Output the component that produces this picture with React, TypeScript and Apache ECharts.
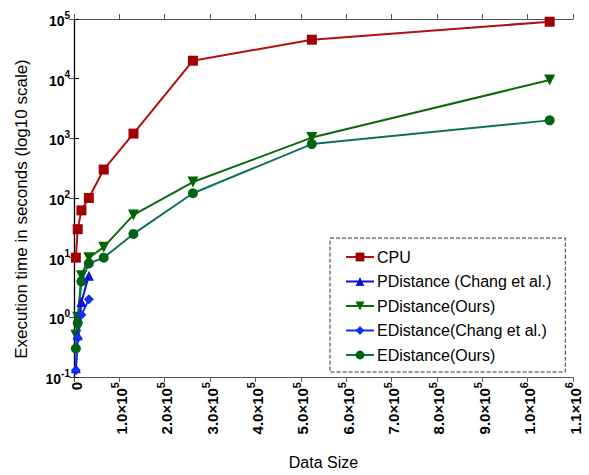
import React, { useEffect, useRef } from "react";
import * as echarts from "echarts";

const dataSizes = [4096, 8192, 16384, 32768, 65536, 131072, 262144, 524288, 1048576];
const cpuTimes = [10, 30, 62, 100, 300, 1200, 20000, 45000, 90000];
const pDistanceChang = [0.14, 0.5, 1.8, 5];
const pDistanceOurs = [0.5, 1.0, 5, 10, 15, 52, 185, 1030, 9500];
const eDistanceChang = [0.13, 0.45, 1.1, 2];
const eDistanceOurs = [0.3, 0.8, 4, 8, 10, 25, 120, 800, 2000];

const seriesNames = [
  "CPU",
  "PDistance (Chang et al.)",
  "PDistance(Ours)",
  "EDistance(Chang et al.)",
  "EDistance(Ours)",
];

const FONT = "'Liberation Sans', Arial, sans-serif";

function pairs(ys: number[]) {
  return ys.map((y, i) => [dataSizes[i], y]);
}

export default function App() {
  const ref = useRef<HTMLDivElement>(null);
  useEffect(() => {
    if (!ref.current) return;
    const chart = echarts.init(ref.current, undefined, { renderer: "svg" });
    const xLabel = (v: number) => {
      if (v === 0) return "{xb|0}";
      const e = Math.floor(Math.log10(v) + 1e-9);
      const m = v / Math.pow(10, e);
      return "{xb|" + m.toFixed(1) + "×10}{xs|" + e + "}";
    };
    const yLabel = (v: number) => "{b|10}{s|" + Math.round(Math.log10(v)) + "}";
    const rich = {
      b: { fontSize: 14, fontWeight: "bold", color: "#000", fontFamily: FONT, lineHeight: 18, verticalAlign: "bottom" },
      s: { fontSize: 10, fontWeight: "bold", color: "#000", fontFamily: FONT, lineHeight: 10, verticalAlign: "top" },
      xb: { fontSize: 15, fontWeight: "bold", color: "#000", fontFamily: FONT, lineHeight: 19, verticalAlign: "bottom" },
      xs: { fontSize: 11, fontWeight: "bold", color: "#000", fontFamily: FONT, lineHeight: 11, verticalAlign: "top" },
    };
    const axisLineGray = { show: true, lineStyle: { color: "#555", width: 1.2 } };
    chart.setOption({
      animation: false,
      backgroundColor: "#fff",
      textStyle: { fontFamily: FONT },
      grid: { left: 74, right: 16, top: 19, bottom: 93, containLabel: false },
      legend: {
        orient: "vertical",
        left: 330,
        top: 238,
        data: seriesNames,
        itemWidth: 28,
        itemHeight: 11,
        itemGap: 8.5,
        padding: [11, 14, 9, 15],
        borderColor: "#333",
        borderWidth: 1,
        borderType: "dashed",
        textStyle: { fontSize: 16, color: "#000", fontFamily: FONT, padding: [0, 0, 0, -2] },
      },
      xAxis: [
        {
          type: "value",
          min: 0,
          max: 1100000,
          interval: 100000,
          name: "Data Size",
          nameLocation: "middle",
          nameGap: 77,
          nameTextStyle: { fontSize: 16, color: "#000", fontFamily: FONT },
          axisLine: axisLineGray,
          axisTick: { show: true, length: 5, inside: false, lineStyle: { color: "#555" } },
          splitLine: { show: false },
          axisLabel: {
            rotate: 90,
            formatter: xLabel,
            rich,
            margin: 5,
          },
        },
        {
          type: "value",
          position: "top",
          min: 0,
          max: 1100000,
          interval: 100000,
          axisLine: axisLineGray,
          axisTick: { show: true, length: 5, lineStyle: { color: "#555" } },
          axisLabel: { show: false },
          splitLine: { show: false },
        },
      ],
      yAxis: [
        {
          type: "log",
          logBase: 10,
          min: 0.1,
          max: 100000,
          splitNumber: 6,
          name: "Execution time in seconds (log10 scale)",
          nameLocation: "middle",
          nameGap: 44,
          nameTextStyle: { fontSize: 17, color: "#000", fontFamily: FONT, padding: [0, 22, 0, 0] },
          axisLine: axisLineGray,
          axisTick: { show: true, length: 5, lineStyle: { color: "#555" } },
          minorTick: { show: false },
          splitLine: { show: false },
          axisLabel: {
            formatter: yLabel,
            rich,
            margin: 4,
          },
        },
        {
          type: "log",
          logBase: 10,
          min: 0.1,
          max: 100000,
          splitNumber: 6,
          position: "right",
          axisLine: { show: true, lineStyle: { color: "#000", width: 1.2 } },
          axisTick: { show: true, length: 5, lineStyle: { color: "#000" } },
          axisLabel: { show: false },
          splitLine: { show: false },
        },
      ],
      series: [
        {
          name: seriesNames[0],
          type: "line",
          data: pairs(cpuTimes),
          symbol: "rect",
          symbolSize: 10,
          itemStyle: { color: "#a00000" },
          lineStyle: { color: "#b01010", width: 2 },
        },
        {
          name: seriesNames[2],
          type: "line",
          data: pairs(pDistanceOurs),
          symbol: "triangle",
          symbolRotate: 180,
          symbolSize: 11,
          itemStyle: { color: "#006400" },
          lineStyle: { color: "#0a6a0a", width: 2 },
        },
        {
          name: seriesNames[4],
          type: "line",
          data: pairs(eDistanceOurs),
          symbol: "circle",
          symbolSize: 10,
          itemStyle: { color: "#006414" },
          lineStyle: { color: "#107060", width: 2 },
        },
        {
          name: seriesNames[1],
          type: "line",
          data: pairs(pDistanceChang),
          symbol: "triangle",
          symbolSize: 10,
          itemStyle: { color: "#1010d8" },
          lineStyle: { color: "#1010d8", width: 2 },
        },
        {
          name: seriesNames[3],
          type: "line",
          data: pairs(eDistanceChang),
          symbol: "diamond",
          symbolSize: 10,
          itemStyle: { color: "#1030f0" },
          lineStyle: { color: "#1030f0", width: 2 },
        },
      ],
    });
    return () => chart.dispose();
  }, []);
  return (
    <div
      ref={ref}
      style={{ position: "fixed", left: 0, top: 0, width: 589, height: 475, background: "#fff" }}
    />
  );
}
